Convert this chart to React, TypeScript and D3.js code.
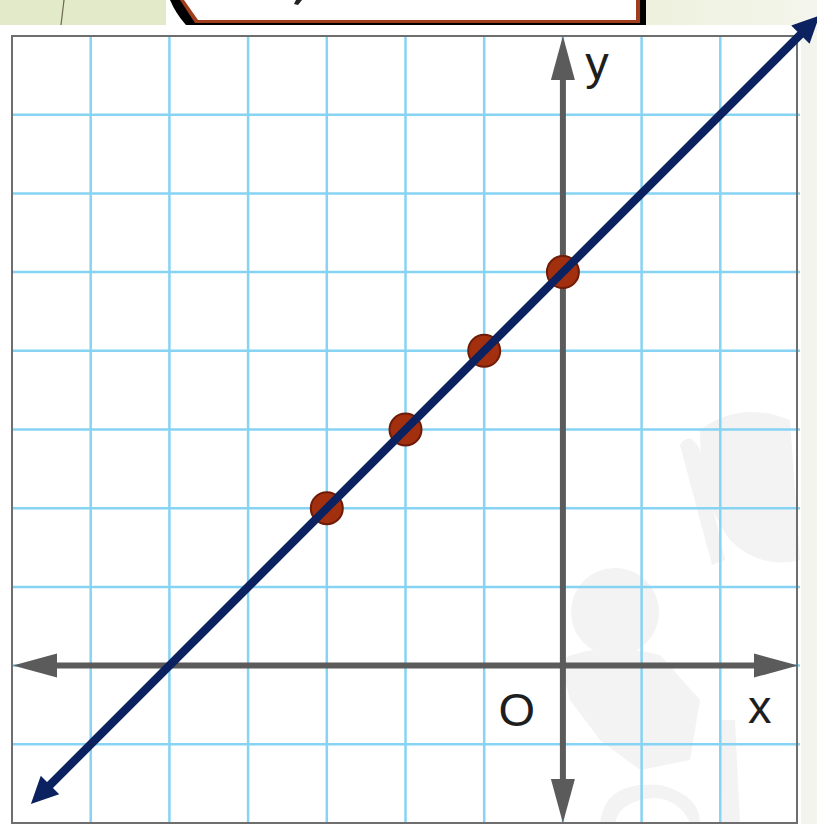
import React from "react";
import * as d3 from "d3";

const W = 817;
const H = 824;

// Data
const gridX = [-7, -6, -5, -4, -3, -2, -1, 0, 1, 2, 3];
const gridY = [-2, -1, 0, 1, 2, 3, 4, 5, 6, 7, 8];
const pointsX = [-3, -2, -1, 0];
const pointsY = [2, 3, 4, 5];
const lineSlope = [1];
const lineIntercept = [5];
const lineXExtent = [-6.76, 3.26];
const axisLabels = ["x", "y", "O"];

export default function App() {
  const x = d3.scaleLinear().domain([-7, 3]).range([12, 799]);
  const y = d3.scaleLinear().domain([-2, 8]).range([823, 36]);

  const left = x(-7);
  const top = y(8);
  const right = x(3) - 2;
  const bottom = y(-2);

  const m = lineSlope[0];
  const b = lineIntercept[0];
  const lx1 = x(lineXExtent[0]);
  const ly1 = y(m * lineXExtent[0] + b);
  const lx2 = x(lineXExtent[1]);
  const ly2 = y(m * lineXExtent[1] + b);

  const arrowHead = (tx: number, ty: number, fx: number, fy: number, len: number, hw: number) => {
    const dx = tx - fx;
    const dy = ty - fy;
    const d = Math.hypot(dx, dy);
    const ux = dx / d;
    const uy = dy / d;
    const bx = tx - ux * len;
    const by = ty - uy * len;
    const px = -uy;
    const py = ux;
    return `M${tx},${ty} L${bx + px * hw},${by + py * hw} L${bx - px * hw},${by - py * hw} Z`;
  };

  const lineGen = d3.line<[number, number]>();

  const axisCol = "#5b5b5b";
  const navy = "#0b2160";

  const ax0 = x(0);
  const ay0 = y(0);

  const linePath =
    lineGen([
      [lx1 + 12, ly1 - 12],
      [lx2 - 12, ly2 + 12],
    ]) || "";

  return (
    <svg
      width={W}
      height={H}
      style={{ position: "fixed", left: 0, top: 0, display: "block", background: "#fff" }}
    >
      <defs>
        <linearGradient id="rg" x1="0" x2="1" y1="0" y2="0">
          <stop offset="0" stopColor="#eef1dd" />
          <stop offset="1" stopColor="#f4f5ec" />
        </linearGradient>
      </defs>
      {/* top decorative strip */}
      <rect x={0} y={0} width={166} height={25} fill="#e3eac9" />
      <line x1={64} y1={0} x2={61} y2={25} stroke="#6b6650" strokeWidth={1.2} />
      <rect x={646} y={0} width={171} height={25} fill="url(#rg)" />
      <path d="M170,0 L646,0 L646,25 L186,25 Q176,14 170,0 Z" fill="#000" />
      <path d="M180,0 L640,0 L640,23 L195,23 Z" fill="#a03d1c" />
      <path d="M184,0 L636,0 L636,20 L198,20 Z" fill="#fff" />
      <path d="M296,0 L302,0 L298,5 L294,4 Z" fill="#222" />
      {/* right margin */}
      <rect x={801} y={25} width={16} height={H - 25} fill="#f3f4ee" />

      {/* watermark */}
      <g fill="#f3f3f3">
        <circle cx={615} cy={612} r={44} />
        <path d="M560,660 Q600,640 660,655 L700,700 L690,760 L640,770 L600,740 L570,700 Z" />
        <path d="M700,430 Q740,400 790,420 L800,560 Q760,570 730,540 Q700,500 700,430 Z" />
        <path d="M680,445 Q690,430 700,450 L725,560 L712,565 Z" />
        <path d="M720,720 L735,720 L740,823 L722,823 Z" />
        <path d="M600,823 Q605,780 660,785 Q700,795 700,823 L690,823 Q680,800 655,798 Q620,800 615,823 Z" />
      </g>

      {/* grid */}
      <g stroke="#86d3f3" strokeWidth={2.5}>
        {gridX.slice(1, -1).map((v) => (
          <line key={"gx" + v} x1={x(v)} x2={x(v)} y1={top} y2={bottom} />
        ))}
        {gridY.slice(1, -1).map((v) => (
          <line key={"gy" + v} x1={left} x2={x(3) + 1} y1={y(v)} y2={y(v)} />
        ))}
      </g>
      <rect
        x={left}
        y={top}
        width={right - left}
        height={bottom - top}
        fill="none"
        stroke="#6e6e6e"
        strokeWidth={2}
      />

      {/* axes */}
      <line x1={left + 30} x2={x(3) - 30} y1={ay0} y2={ay0} stroke={axisCol} strokeWidth={6} />
      <line x1={ax0} x2={ax0} y1={top + 30} y2={bottom - 30} stroke={axisCol} strokeWidth={6} />
      <path d={arrowHead(left + 1, ay0, ax0, ay0, 44, 12)} fill={axisCol} />
      <path d={arrowHead(x(3) - 1, ay0, ax0, ay0, 44, 12)} fill={axisCol} />
      <path d={arrowHead(ax0, top, ax0, ay0, 44, 12)} fill={axisCol} />
      <path d={arrowHead(ax0, bottom, ax0, ay0, 44, 12)} fill={axisCol} />

      {/* labels */}
      <g fontFamily="'Liberation Sans', Arial, sans-serif" fontSize={47} fill="#1e1e1e">
        <text x={x(2.5)} y={ay0 + 57} textAnchor="middle">{axisLabels[0]}</text>
        <text x={ax0 + 34} y={y(7.45)} textAnchor="middle">{axisLabels[1]}</text>
        <text x={ax0 - 46} y={ay0 + 60} textAnchor="middle">{axisLabels[2]}</text>
      </g>

      {/* line y = x + 5 */}
      <path d={linePath} stroke={navy} strokeWidth={8} fill="none" />

      {/* points */}
      {pointsX.map((px, i) => (
        <circle
          key={i}
          cx={x(px)}
          cy={y(pointsY[i])}
          r={16}
          fill="#a2300f"
          stroke="#6e1c08"
          strokeWidth={2}
        />
      ))}
      {/* redraw line over points */}
      <path d={linePath} stroke={navy} strokeWidth={8} fill="none" />
      <path d={arrowHead(lx1, ly1, lx2, ly2, 27, 13)} fill={navy} />
      <path d={arrowHead(lx2, ly2, lx1, ly1, 27, 13)} fill={navy} />
    </svg>
  );
}
